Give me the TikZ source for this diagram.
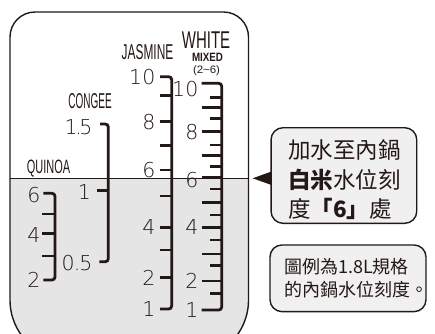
\documentclass[tikz,border=0pt]{standalone}
\usepackage{fontspec}
\usepackage{graphicx}
\setmainfont{Liberation Sans}
\IfFontExistsTF{DejaVu Sans ExtraLight}
  {\newfontfamily\numfont{DejaVu Sans ExtraLight}}
  {\newfontfamily\numfont{DejaVu Sans}}
\newfontfamily\cjkfont{Noto Sans CJK TC}
\usetikzlibrary{positioning}
\definecolor{ink}{HTML}{231815}
\tikzset{
pot/.style={draw=ink,line width=1.4pt},
water/.style={fill=black!10},
scalebar/.style={draw=ink,line width=2.8pt,rounded corners=3pt},
tick/.style={draw=ink,line width=2.8pt},
num/.style={font=\numfont\fontsize{20.5}{20.5}\selectfont,text=ink,
    inner sep=0pt,anchor=east},
word/.style={text=ink,inner sep=0pt},
callout/.style={draw=ink,line width=1.4pt,fill=black!6,rounded corners=12pt,
    inner sep=0pt},
msg/.style={text=ink,inner sep=0pt,anchor=west,align=left},
}

\begin{document}
\begin{tikzpicture}[x=1pt,y=-1pt]
    \clip (0,0) rectangle (435,333);

    % pot and water
    \begin{scope}
        \clip (0,178) rectangle (260,370);
        \fill[water] (10,200) [rounded corners=25pt] -- (10,12) -- (248.5,12)
            -- (248.5,200) [rounded corners=60pt] -- (248.5,360) -- (10,360) -- cycle;
    \end{scope}
    \draw[ink,line width=0.9pt] (10,178) -- (248.5,178);
    \draw[pot] (10,200) [rounded corners=25pt] -- (10,12) -- (248.5,12)
        -- (248.5,200) [rounded corners=60pt] -- (248.5,360) -- (10,360) -- cycle;

    % titles
    \node[word] (white)   at (206,40)    {\resizebox{48.3pt}{16.7pt}{WHITE}};
    \node[word] (mixed)   at (207.5,57.5){\resizebox{31pt}{8.3pt}{\bfseries MIXED}};
    \node[word] (range)   at (206.5,71)  {\resizebox{27pt}{7.8pt}{(2\textasciitilde6)}};
    \node[word] (jasmine) at (147.5,52.5){\resizebox{51.6pt}{15pt}{JASMINE}};
    \node[word] (congee)  at (90,100.8)  {\resizebox{43.4pt}{15pt}{CONGEE}};
    \node[word] (quinoa)  at (48.5,169)  {\resizebox{43.3pt}{13.5pt}{QUINOA}};

    % jasmine scale
    \draw[scalebar] (160,76.7) -- (171.7,76.7) -- (171.7,309) -- (160,309);
    \foreach \y in {95.7,121.7,145.7,170,196,227.3,250,277.7}
        \draw[tick] (159.5,\y) -- (171.7,\y);
    \foreach \v/\y in {10/76.7,8/121.7,6/170,4/227.3,2/277.7,1/309}
        \node[num] (j\v) at (155.5,\y) {\v};

    % white scale
    \draw[scalebar] (201.7,83.3) -- (221.7,83.3) -- (221.7,310) -- (201.7,310);
    \foreach \y in {107.7,131.7,155.7,177.7,202.3,227.3,254,281}
        \draw[tick] (201.7,\y) -- (221.7,\y);
    \foreach \y in {97.7,118.3,145,166.7,189,215,240,265.7,293.3}
        \draw[tick] (210,\y) -- (221.7,\y);
    \foreach \v/\y in {10/89,8/131.7,6/180,4/227.3,2/281,1/310}
        \node[num] (w\v) at (198.5,\y) {\v};

    % congee scale
    \draw[scalebar] (100,124) -- (108.3,124) -- (108.3,261.7) -- (99.3,261.7);
    \draw[tick] (97.3,190.7) -- (108.3,190.7);
    \node[num] (c15) at (92.5,126.7) {1\kern-2.5pt.\kern-2.5pt5};
    \node[num] (c1)  at (91,192)     {1};
    \node[num] (c05) at (92.5,263.3) {0\kern-1pt.\kern-1pt5};

    % quinoa scale
    \draw[scalebar] (43.3,193.3) -- (55,193.3) -- (55,280) -- (43.3,280);
    \foreach \y in {214,233.3,256}
        \draw[tick] (42,\y) -- (55,\y);
    \foreach \v/\y in {6/195,4/235,2/280}
        \node[num] (q\v) at (40.5,\y) {\v};

    % notes
    \node[callout,minimum width=145.7pt,minimum height=95.6pt]
        (box1) at (343.9,175.5) {};
    \fill[ink] (252.7,178.3) -- (271.5,171.5) -- (271.5,185) -- cycle;
    \node[msg,font=\cjkfont\fontsize{22.5}{29.5}\selectfont] (note1) at (288,180)
        {加水至內鍋\\{\bfseries 白米}水位刻\\度{\bfseries 「6」}處};
    \node[callout,minimum width=156pt,minimum height=66.7pt]
        (box2) at (348,278.3) {};
    \node[msg,font=\cjkfont\fontsize{18}{23}\selectfont] (note2) at (284,278)
        {圖例為1.8L規格\\的內鍋水位刻度。};
\end{tikzpicture}
\end{document}
